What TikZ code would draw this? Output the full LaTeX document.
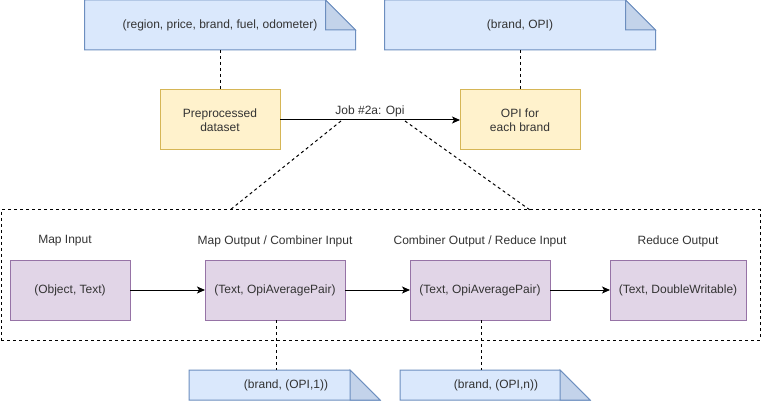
\documentclass[tikz,border=0pt]{standalone}
\usepackage{fontspec}
\setmainfont{Liberation Sans}
\usetikzlibrary{arrows.meta}
\definecolor{noteblue}{HTML}{DAE8FC}
\definecolor{notefoldc}{HTML}{C3D3EA}
\definecolor{noteline}{HTML}{6C8EBF}
\definecolor{yelfill}{HTML}{FFF2CC}
\definecolor{yelline}{HTML}{D6B656}
\definecolor{purfill}{HTML}{E1D5E7}
\definecolor{purline}{HTML}{9673A6}
\definecolor{txt}{HTML}{333333}
\pgfdeclarelayer{bottomlayer}
\pgfdeclarelayer{background}
\pgfsetlayers{bottomlayer,background,main}
\newcommand\mynotefold[2]{%
\begin{pgfonlayer}{background}
\path[fill=noteblue, draw=noteline, line width=1pt, line join=miter]
  (#1.north west) -- ([xshift=-#2pt]#1.north east) -- ([yshift=-#2pt]#1.north east)
  -- (#1.south east) -- (#1.south west) -- cycle;
\path[fill=notefoldc, draw=noteline, line width=1pt]
  ([xshift=-#2pt]#1.north east) -- ([xshift=-#2pt,yshift=-#2pt]#1.north east)
  -- ([yshift=-#2pt]#1.north east) -- cycle;
\end{pgfonlayer}}
\tikzset{
  every node/.style={font=\fontsize{12}{14}\selectfont, text=txt},
  notebox/.style={rectangle, inner sep=0pt, outer sep=0pt},
  yelbox/.style={rectangle, fill=yelfill, draw=yelline, line width=1pt, minimum width=120pt, minimum height=60pt, align=center, inner sep=0pt, outer sep=0pt},
  purbox/.style={rectangle, fill=purfill, draw=purline, line width=1pt, minimum height=60pt, inner sep=0pt, outer sep=0pt},
  lab/.style={inner sep=0pt},
  dashline/.style={draw=black, line width=1pt, dash pattern=on 3pt off 3pt},
  arr/.style={draw=black, line width=1pt, -{Stealth[length=8pt,width=7pt,inset=2pt]}},
}
\begin{document}
\begin{tikzpicture}[x=1pt,y=-1pt]
\useasboundingbox (0,0) rectangle (761,401);
\begin{pgfonlayer}{bottomlayer}
\fill[white] (0,0) rectangle (761,401);
\end{pgfonlayer}

% top notes
\node[notebox, minimum width=271pt, minimum height=50pt] (n1) at (220,25) {(region, price, brand, fuel, odometer)};
\mynotefold{n1}{30}
\node[notebox, minimum width=271pt, minimum height=50pt] (n2) at (520,25) {(brand, OPI)};
\mynotefold{n2}{30}

% yellow boxes
\node[yelbox] (pre) at (220,120) {Preprocessed\\dataset};
\node[yelbox] (opi) at (520,120) {OPI for\\each brand};

\draw[dashline] (n1.south) -- (pre.north);
\draw[dashline] (n2.south) -- (opi.north);
\draw[arr] (pre.east) -- (opi.west);
\node[lab] (job) at (370,111) {Job \#2a: Opi};

% group box
\node[rectangle, draw=black, line width=1pt, dash pattern=on 3pt off 3pt, minimum width=759pt, minimum height=130pt, inner sep=0pt, outer sep=0pt] (grp) at (380.5,275) {};
\coordinate (zl) at (341,121);
\coordinate (zr) at (405,121);
\coordinate (gl) at (230,210);
\coordinate (gr) at (530,210);
\draw[dashline] (zl) -- (gl);
\draw[dashline] (zr) -- (gr);

% purple boxes
\node[purbox, minimum width=120pt] (b1) at (70,290) {(Object, Text)};
\node[purbox, minimum width=140pt] (b2) at (275,290) {(Text, OpiAveragePair)};
\node[purbox, minimum width=140pt] (b3) at (480,290) {(Text, OpiAveragePair)};
\node[purbox, minimum width=136pt] (b4) at (678,290) {(Text, DoubleWritable)};

\node[lab] (l1) at (65,241) {Map Input};
\node[lab] (l2) at (275,241) {Map Output / Combiner Input};
\node[lab] (l3) at (480,241) {Combiner Output / Reduce Input};
\node[lab] (l4) at (678,241) {Reduce Output};

\draw[arr] (b1.east) -- (b2.west);
\draw[arr] (b2.east) -- (b3.west);
\draw[arr] (b3.east) -- (b4.west);

% bottom notes
\node[notebox, minimum width=191pt, minimum height=30pt] (n3) at (284.5,385) {\hspace*{3pt}(brand, (OPI,1))};
\mynotefold{n3}{30}
\node[notebox, minimum width=190pt, minimum height=30pt] (n4) at (495,385) {\hspace*{2pt}(brand, (OPI,n))};
\mynotefold{n4}{30}

\draw[dashline] ([xshift=1pt]b2.south) -- ([xshift=1pt]b2.south |- n3.north);
\draw[dashline] ([xshift=1pt]b3.south) -- ([xshift=1pt]b3.south |- n4.north);
\end{tikzpicture}
\end{document}
